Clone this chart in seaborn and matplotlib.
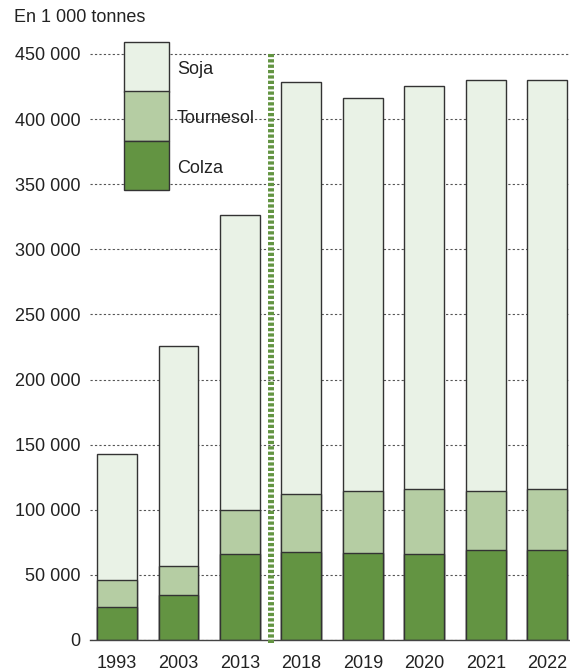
import numpy as np
import pandas as pd
import matplotlib.pyplot as plt
import seaborn as sns
from matplotlib.patches import Rectangle
from matplotlib.ticker import FuncFormatter

# values, in 1 000 tonnes
years = ['1993', '2003', '2013', '2018', '2019', '2020', '2021', '2022']
colza = [25600, 34700, 66000, 67900, 66600, 66000, 69100, 68900]
tournesol = [20200, 22500, 33500, 44300, 48100, 49800, 45200, 47100]
soja = [96800, 168300, 226800, 316100, 301200, 309800, 315850, 314150]

series_names = ['Soja', 'Tournesol', 'Colza']
series_colors = ['#e9f2e6', '#b5cda3', '#639442']

sns.set_style("white")
plt.rcParams['font.family'] = ['Liberation Sans', 'DejaVu Sans']

df = pd.DataFrame({'year': years, 'colza': colza, 'tournesol': tournesol, 'soja': soja})
df['cum2'] = df['colza'] + df['tournesol']
df['total'] = df['cum2'] + df['soja']

W, H = 570, 672
fig = plt.figure(figsize=(W / 100, H / 100), dpi=100)
ax = fig.add_axes([90 / W, 32 / H, 480 / W, 600 / H])

edge = '#333333'
# stacked bars drawn as overlays: total, colza+tournesol, colza
for col, c in zip(['total', 'cum2', 'colza'], series_colors):
    sns.barplot(data=df, x='year', y=col, color=c, saturation=1, width=0.65,
                edgecolor=edge, linewidth=1.0, ax=ax, zorder=3)

ax.set_xlim(-0.44, 7.37)
ax.set_ylim(0, 460750)
ax.set_yticks(np.arange(0, 450001, 50000))
ax.yaxis.set_major_formatter(FuncFormatter(lambda v, p: f"{int(v):,}".replace(",", " ")))
ax.set_xlabel('')
ax.set_ylabel('')

ax.grid(axis='y', color='#555555', linestyle=(0, (2, 2)), linewidth=0.8)
ax.grid(axis='x', visible=False)
ax.set_axisbelow(True)
for s in ['left', 'right', 'top']:
    ax.spines[s].set_visible(False)
ax.spines['bottom'].set_color('#444444')
ax.spines['bottom'].set_linewidth(1.0)
ax.spines['bottom'].set_zorder(4)

ax.tick_params(axis='y', length=0, pad=7, labelsize=13, labelcolor='#222222')
ax.tick_params(axis='x', length=0, pad=11, labelsize=13, labelcolor='#222222')

# separator between 2013 and 2018
ax.vlines(2.5, -2500, 450000, color='#639442', linewidth=4.3,
          linestyles=[(0, (0.55, 0.35))], zorder=5, clip_on=False)

fig.text(14 / W, 1 - 17 / H, 'En 1 000 tonnes', fontsize=13, color='#222222',
         va='center', ha='left')

# legend as a stacked swatch
lx, lw = 124, 45
tops = [42, 91, 140.7]
hh = 49.5
for t, name, c in zip(tops, series_names, series_colors):
    fig.patches.append(Rectangle((lx / W, 1 - (t + hh) / H), lw / W, hh / H,
                                 transform=fig.transFigure, facecolor=c,
                                 edgecolor=edge, linewidth=1.0, zorder=6))
    fig.text(177 / W, 1 - (t + hh / 2 + 3) / H, name, fontsize=13, color='#222222',
             va='center', ha='left', zorder=7)

plt.savefig('out.png', dpi=100)
